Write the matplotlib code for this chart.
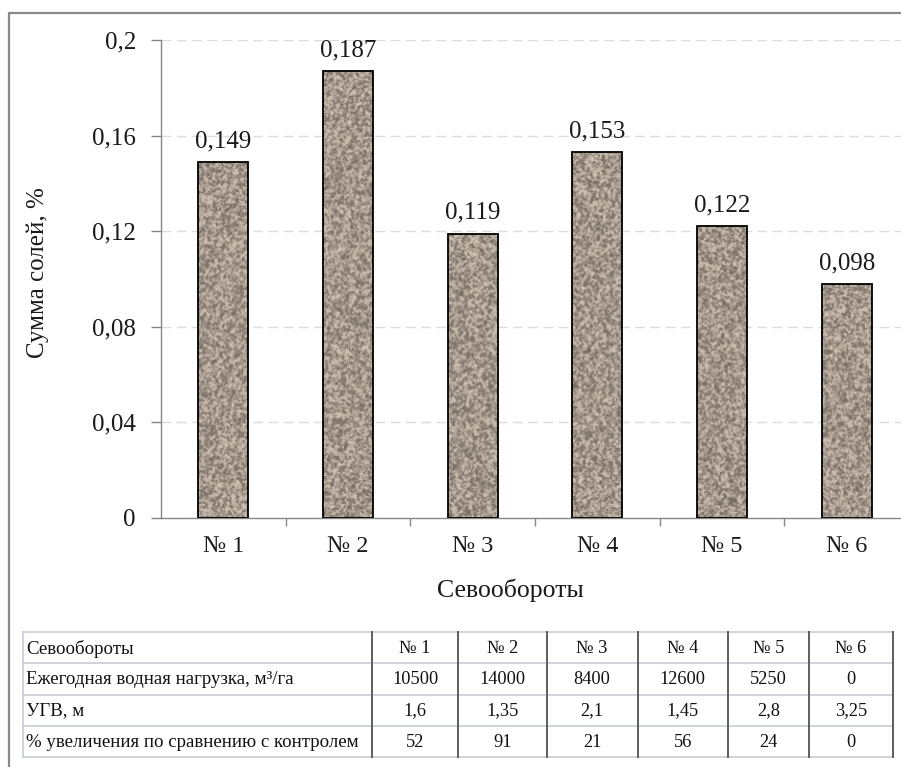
import numpy as np
import matplotlib
matplotlib.use("Agg")
import matplotlib.pyplot as plt
from matplotlib.lines import Line2D

plt.rcParams['font.family'] = ['Liberation Serif', 'DejaVu Serif']

categories = ["№ 1", "№ 2", "№ 3", "№ 4", "№ 5", "№ 6"]
salt_sum = [0.149, 0.187, 0.119, 0.153, 0.122, 0.098]
value_labels = ["0,149", "0,187", "0,119", "0,153", "0,122", "0,098"]
y_ticks = [0, 0.04, 0.08, 0.12, 0.16, 0.2]
y_tick_labels = ["0", "0,04", "0,08", "0,12", "0,16", "0,2"]

table_header = "Севообороты"
row_names = ["Ежегодная водная нагрузка, м³/га", "УГВ, м", "% увеличения по сравнению с контролем"]
water_load = ["10500", "14000", "8400", "12600", "5250", "0"]
ugv = ["1,6", "1,35", "2,1", "1,45", "2,8", "3,25"]
pct_increase = ["52", "91", "21", "56", "24", "0"]

W, H = 901, 767
fig = plt.figure(figsize=(W / 100, H / 100), dpi=100)

def fx(px):
    return px / W

def fy(py):
    return 1 - py / H

TXT = '#1a1a1a'
FS = 18

# main axes
ax_left, ax_right, ax_top, ax_bot = 161, 909, 40.3, 517.7
ax = fig.add_axes([fx(ax_left), fy(ax_bot), fx(ax_right - ax_left), (ax_bot - ax_top) / H])
x = np.arange(len(categories))
bw = 0.4
bars = ax.bar(x, salt_sum, width=bw, facecolor='none', edgecolor='black', linewidth=1.3, zorder=3)

# stone-like texture inside the bars (purely decorative)
rng = np.random.default_rng(11)
def blur(a, k):
    ker = np.ones(k) / k
    a = np.apply_along_axis(lambda r: np.convolve(r, ker, mode='same'), 0, a)
    a = np.apply_along_axis(lambda r: np.convolve(r, ker, mode='same'), 1, a)
    return a
for b in bars:
    hpx = max(int(b.get_height() / 0.2 * (ax_bot - ax_top)), 4)
    wpx = 52
    pad = 6
    n1 = blur(rng.standard_normal((hpx + 2 * pad, wpx + 2 * pad)), 3)
    n1 = n1 / n1.std()
    n2 = blur(rng.standard_normal((hpx + 2 * pad, wpx + 2 * pad)), 2)
    n2 = n2 / n2.std()
    n = 0.7 * n1 + 0.5 * n2
    n = n[pad:-pad, pad:-pad]
    n = np.tanh(n * 0.8)
    base = np.array([164, 152, 140]) / 255.0
    img = base[None, None, :] + n[..., None] * np.array([0.18, 0.175, 0.17])[None, None, :]
    img = np.clip(img, 0, 1)
    im = ax.imshow(img, extent=(b.get_x(), b.get_x() + b.get_width(), 0, b.get_height()),
                   aspect='auto', interpolation='bilinear', zorder=2)
    im.set_clip_path(b)

for xi, v, lab in zip(x, salt_sum, value_labels):
    ax.annotate(lab, (xi, v), xytext=(0, 7), textcoords='offset points',
                ha='center', va='bottom', fontsize=FS, color=TXT)

ax.set_xlim(-0.5, 5.5)
ax.set_ylim(0, 0.2)
ax.set_yticks(y_ticks)
ax.set_yticklabels(y_tick_labels)
ax.set_xticks(x)
ax.set_xticklabels(categories)
ax.set_xticks(np.arange(len(categories) - 1) + 0.5, minor=True)
ax.tick_params(axis='x', which='major', length=0, pad=13, labelsize=17.5, labelcolor=TXT)
ax.tick_params(axis='x', which='minor', length=6, width=1, color='#868686', direction='out')
ax.tick_params(axis='y', which='major', length=7, width=1, color='#868686', pad=11,
               labelsize=FS, labelcolor=TXT)
for g in y_ticks[1:]:
    ax.axhline(g, color='#dcdcdc', linestyle=(0, (7, 4)), linewidth=1, zorder=1)
for s in ['top', 'right']:
    ax.spines[s].set_visible(False)
for s in ['left', 'bottom']:
    ax.spines[s].set_color('#868686')
    ax.spines[s].set_linewidth(1)

fig.text(fx(510), fy(590), "Севообороты", ha='center', va='center', fontsize=18.5, color=TXT)
fig.text(fx(38), fy(273), "Сумма солей, %", ha='center', va='center', rotation=90,
         fontsize=FS, color=TXT)

# overlay axes in pixel coordinates for frame and table
ov = fig.add_axes([0, 0, 1, 1], facecolor='none')
ov.set_xlim(0, W)
ov.set_ylim(H, 0)
ov.axis('off')

# outer frame
ov.add_line(Line2D([8.5, 8.5, W + 5], [H + 5, 13, 13], color='#8a8a8a', linewidth=1.6))

# table
col_x = [23.3, 371.7, 458.3, 546.7, 637.5, 727.7, 809.3, 892.7]
row_y = [632.3, 663.4, 694.5, 725.6, 756.7]
for yy in row_y:
    ov.add_line(Line2D([col_x[0], col_x[-1]], [yy, yy], color='#c9ccd6', linewidth=1.2))
ov.add_line(Line2D([col_x[0], col_x[0]], [row_y[0], row_y[-1]], color='#c9ccd6', linewidth=1.2))
for xx in col_x[1:]:
    ov.add_line(Line2D([xx, xx], [row_y[0], row_y[-1]], color='#5e5e5e', linewidth=1.4))

rows = [[table_header] + categories,
        [row_names[0]] + water_load,
        [row_names[1]] + ugv,
        [row_names[2]] + pct_increase]
for r, row in enumerate(rows):
    yc = (row_y[r] + row_y[r + 1]) / 2 + 1
    ov.text(col_x[0] + 3, yc, row[0], ha='left', va='center', fontsize=13.6, color='#111111')
    for c, val in enumerate(row[1:]):
        xc = (col_x[c + 1] + col_x[c + 2]) / 2
        ov.text(xc, yc, val, ha='center', va='center', fontsize=13.2, color='#111111')

fig.savefig("out.png", dpi=100)
